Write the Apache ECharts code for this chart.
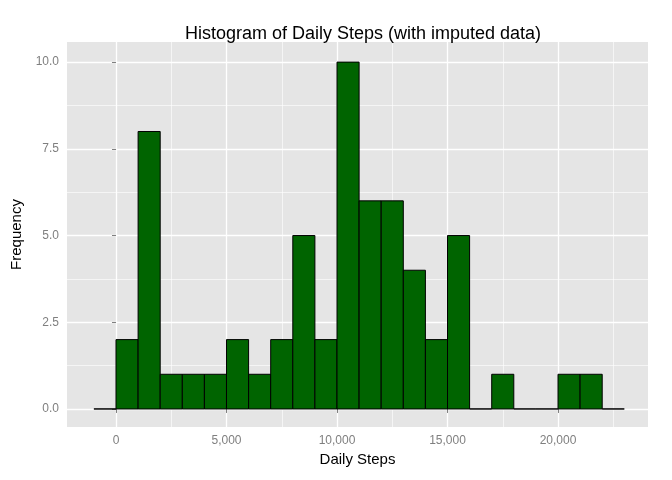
<!DOCTYPE html>
<html>
<head>
<meta charset="utf-8">
<script src="https://cdn.jsdelivr.net/npm/echarts@6/dist/echarts.min.js"></script>
<style>html,body{margin:0;background:#fff}#c{width:672px;height:480px}</style>
</head>
<body>
<div id="c"></div>
<script>
// histogram bins (start of bin, width 1000) and counts
const binStarts = [-1000, 0, 1000, 2000, 3000, 4000, 5000, 6000, 7000, 8000, 9000, 10000,
  11000, 12000, 13000, 14000, 15000, 16000, 17000, 18000, 19000, 20000, 21000, 22000]
const counts = [0, 2, 8, 1, 1, 1, 2, 1, 2, 5, 2, 10, 6, 6, 4, 2, 5, 0, 1, 0, 0, 1, 1, 0]
const binWidth = 1000
const xMajor = [0, 5000, 10000, 15000, 20000]
const xMinor = [2500, 7500, 12500, 17500, 22500]
const yMajor = [0, 2.5, 5, 7.5, 10]
const yMinor = [1.25, 3.75, 6.25, 8.75]

const chart = echarts.init(document.getElementById('c'), null, { renderer: 'canvas' })
const gridLine = (axis, vals, w) => vals.map((v) => ({ [axis]: v, lineStyle: { color: '#fff', width: w, type: 'solid' } }))

chart.setOption({
  animation: false,
  title: {
    text: 'Histogram of Daily Steps (with imputed data)',
    left: 358, top: 20, textAlign: 'center',
    textStyle: { fontFamily: 'Liberation Sans, Arial', fontSize: 18, fontWeight: 'normal', color: '#000' },
  },
  grid: { left: 67, right: 24, top: 42, bottom: 53, show: true, backgroundColor: '#e5e5e5', borderWidth: 0 },
  xAxis: {
    type: 'value', min: -2217, max: 24072,
    name: 'Daily Steps', nameLocation: 'middle', nameGap: 24,
    nameTextStyle: { fontSize: 15, color: '#000', fontFamily: 'Liberation Sans, Arial' },
    splitLine: { show: false },
    axisLine: { show: false },
    axisTick: { show: true, customValues: xMajor, length: 4, lineStyle: { color: '#7f7f7f' } },
    axisLabel: { customValues: xMajor, color: '#7f7f7f', fontSize: 12, margin: 8 },
  },
  yAxis: {
    type: 'value', min: -0.52, max: 10.58,
    name: 'Frequency', nameLocation: 'middle', nameGap: 38,
    nameTextStyle: { fontSize: 15, color: '#000', fontFamily: 'Liberation Sans, Arial' },
    splitLine: { show: false },
    axisLine: { show: false },
    axisTick: { show: true, customValues: yMajor, length: 4, lineStyle: { color: '#7f7f7f' } },
    axisLabel: { customValues: yMajor, color: '#7f7f7f', fontSize: 12, margin: 8, formatter: (v) => v.toFixed(1) },
  },
  series: [
    {
      type: 'custom',
      data: binStarts.map((s, i) => [s, s + binWidth, counts[i]]),
      encode: { x: [0, 1], y: 2 },
      renderItem: (params, api) => {
        const p0 = api.coord([api.value(0), api.value(2)])
        const p1 = api.coord([api.value(1), 0])
        return {
          type: 'rect',
          shape: { x: p0[0], y: p0[1], width: p1[0] - p0[0], height: p1[1] - p0[1] },
          style: { fill: '#006400', stroke: '#000', lineWidth: 1 },
        }
      },
      markLine: {
        silent: true, symbol: 'none', label: { show: false }, z: 0,
        data: [
          ...gridLine('xAxis', xMinor, 0.6), ...gridLine('xAxis', xMajor, 1.3),
          ...gridLine('yAxis', yMinor, 0.6), ...gridLine('yAxis', yMajor, 1.3),
        ],
      },
    },
  ],
})
</script>
</body>
</html>
